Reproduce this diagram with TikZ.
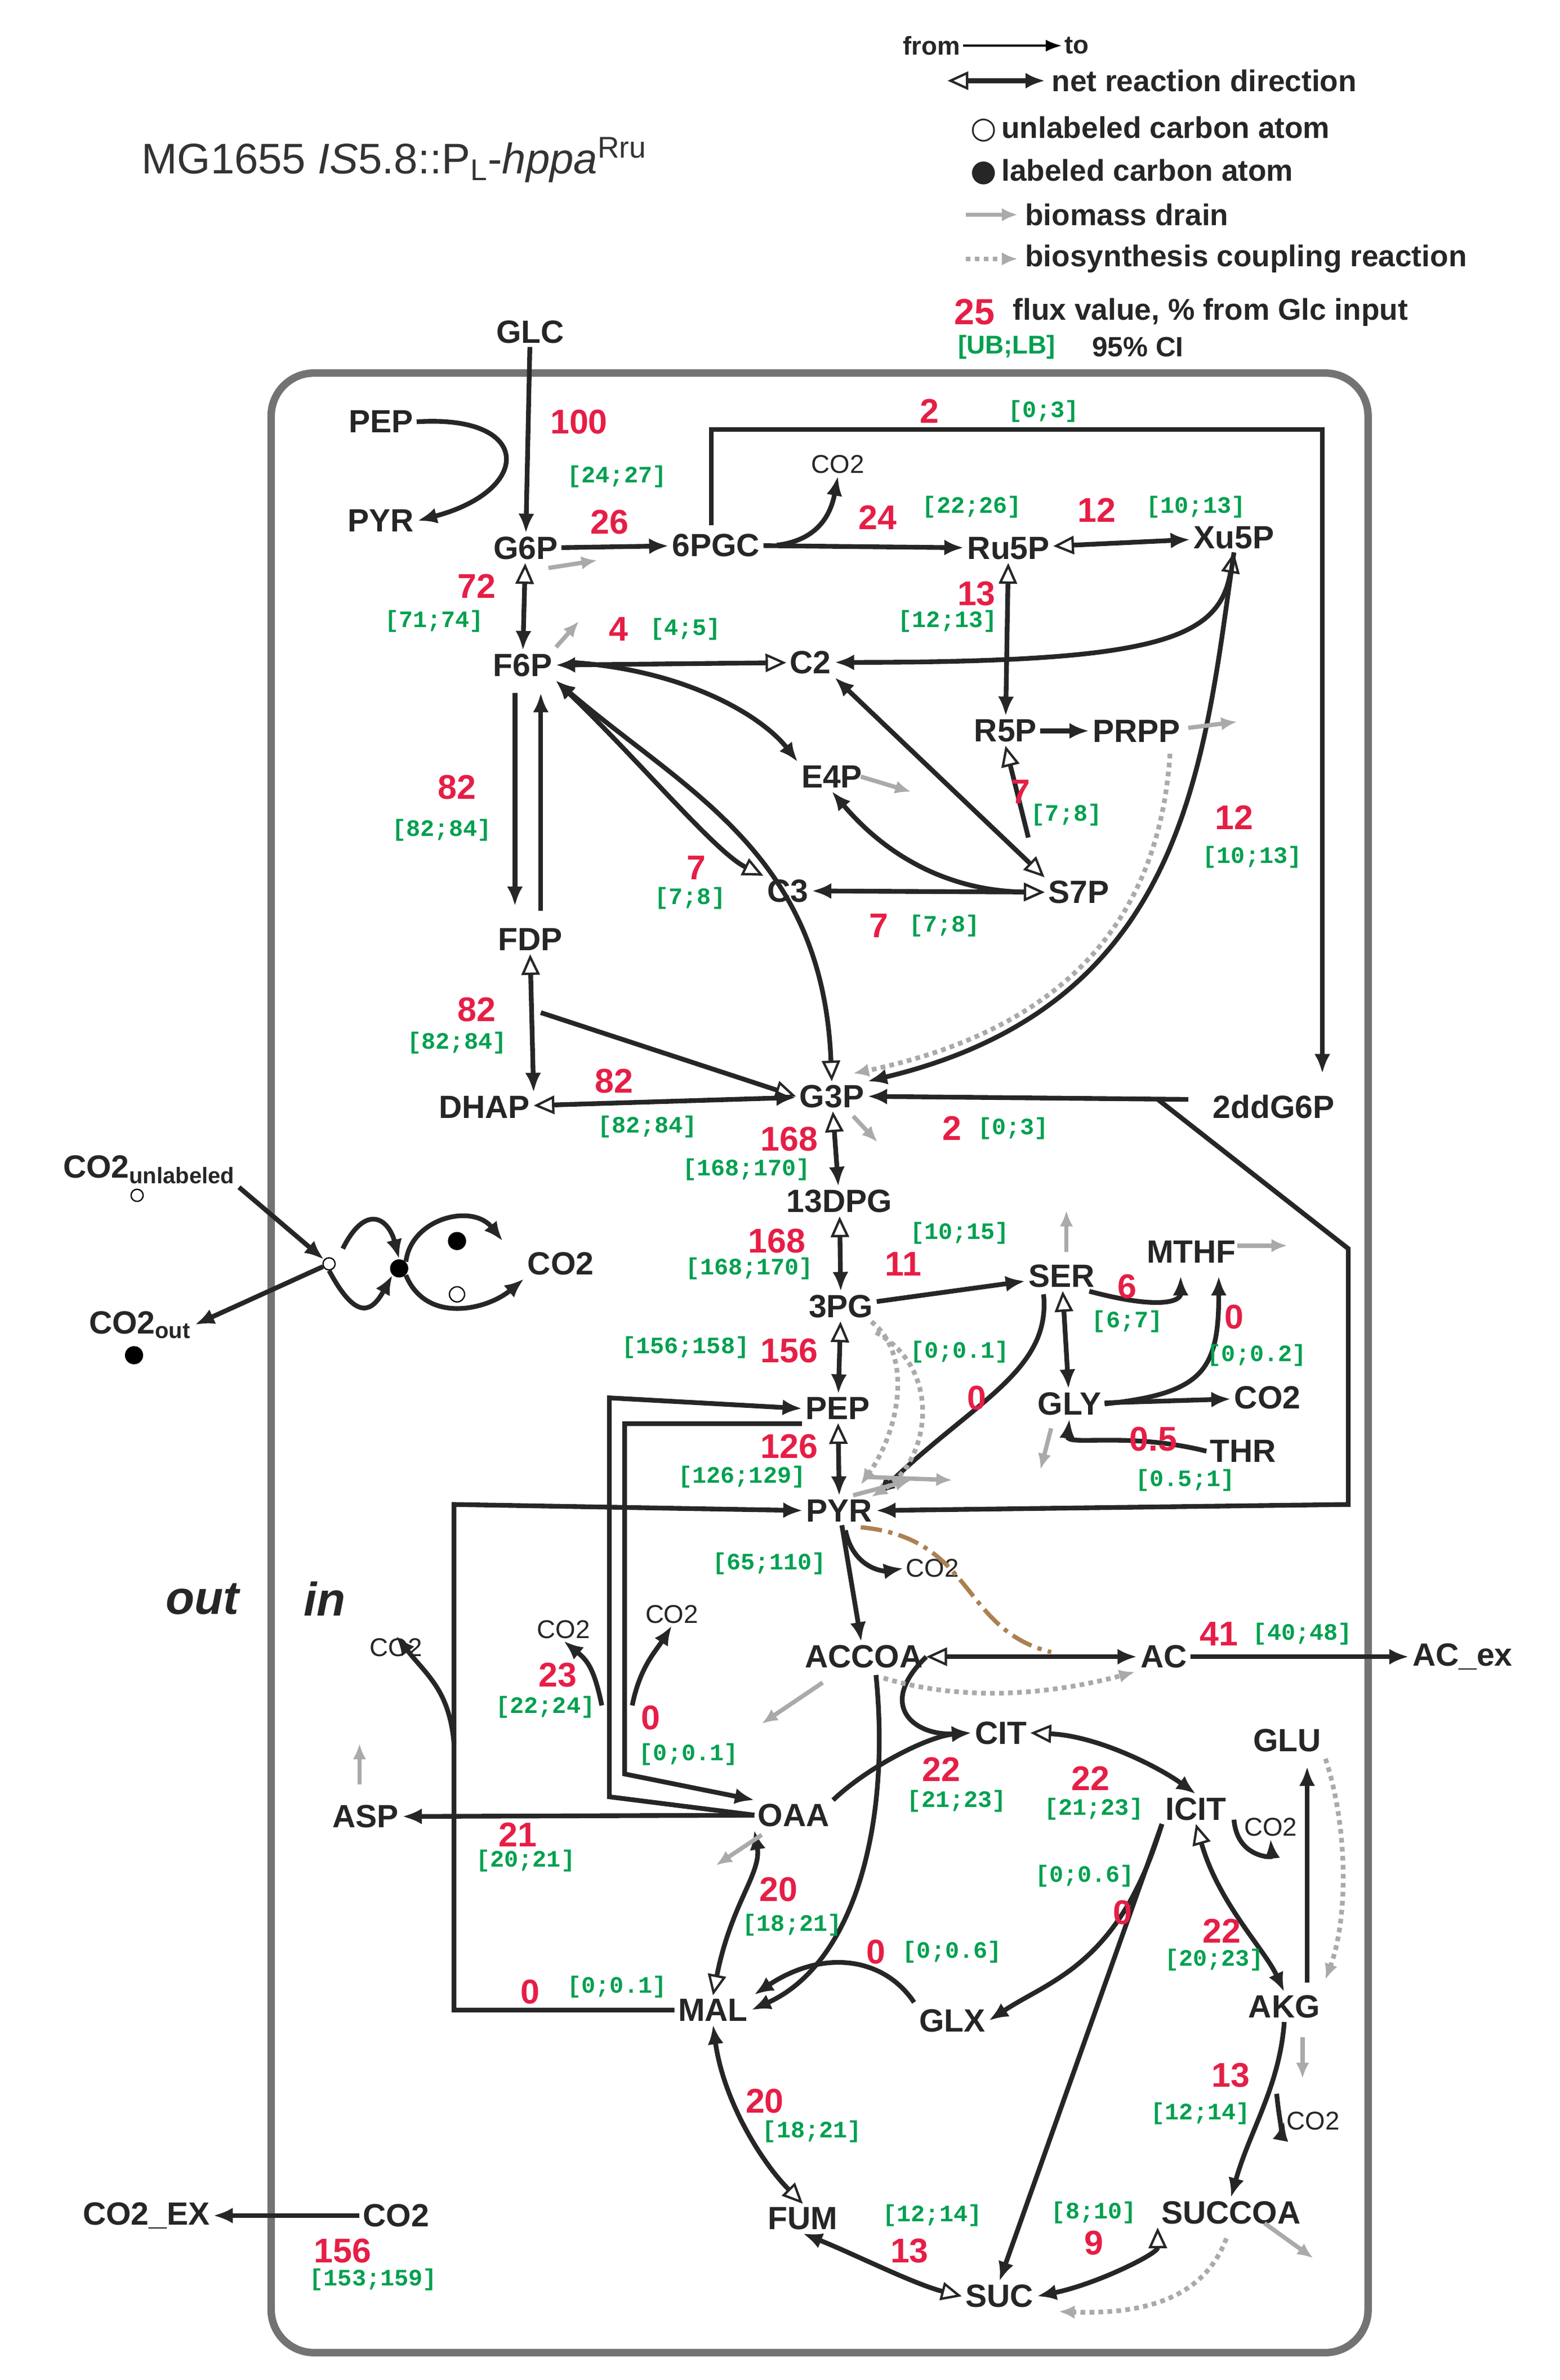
\documentclass[tikz,border=0pt]{standalone}
\usepackage{fontspec}
\setmainfont{Liberation Sans}
\setsansfont{Liberation Sans}
\setmonofont{Liberation Mono}
\usetikzlibrary{arrows.meta}
\definecolor{fred}{RGB}{230,30,70}
\definecolor{fgreen}{RGB}{0,160,80}
\definecolor{bgray}{RGB}{170,170,170}
\tikzset{
 Fa/.tip={Latex[length=3.2mm,width=2.6mm]},
 Oa/.tip={Triangle[open,length=3.4mm,width=3mm,line width=1.1pt,fill=white]},
 Ga/.tip={Latex[length=2.6mm,width=2.2mm]},
 m/.style={font=\fontsize{15}{16}\selectfont\bfseries\sffamily,text=black!85,inner sep=1.5pt},
 sm/.style={font=\fontsize{12}{13}\selectfont\sffamily,text=black!85,inner sep=1pt},
 fx/.style={font=\fontsize{16}{17}\selectfont\bfseries\sffamily,text=fred,inner sep=0pt},
 ci/.style={font=\fontsize{11}{12}\selectfont\bfseries\ttfamily,text=fgreen,inner sep=0pt},
 e/.style={line width=2.2pt,draw=black!85},
 bio/.style={line width=2pt,draw=bgray,-{Ga}},
 cpl/.style={line width=2.2pt,draw=bgray,dotted,-{Ga}},
}
\begin{document}
\begin{tikzpicture}[x=0.025cm,y=-0.025cm]
\useasboundingbox (0,0) rectangle (1024,1563);
% box
\draw[line width=3.5pt,draw=black!55,rounded corners=20] (178,245) rectangle (898,1545);
% title and legend
\node[anchor=west,font=\fontsize{20}{22}\selectfont\sffamily,text=black!80] (title) at (88,105) {MG1655 \textit{IS}5.8::P\textsubscript{L}-\textit{hppa}\textsuperscript{Rru}};
\node[sm,anchor=east] (lfrom) at (632,30) {\bfseries from};
\node[sm,anchor=west] (lto) at (697,30) {\bfseries to};
\draw[line width=1pt,-{Latex}] (lfrom.east) -- (lto.west);
\coordinate (nd1) at (622,53); \coordinate (nd2) at (686,53);
\draw[e,{Oa}-{Fa}] (nd1) -- (nd2);
\node[m,anchor=west,font=\fontsize{14}{15}\selectfont\bfseries] (lnet) at (688,53) {net reaction direction};
\node[anchor=west,font=\fontsize{14}{15}\selectfont\bfseries,text=black!85] (lun) at (632,85) {\fontspec{DejaVu Sans}○\,\fontspec{Liberation Sans}unlabeled carbon atom};
\node[anchor=west,font=\fontsize{14}{15}\selectfont\bfseries,text=black!85] (llab) at (632,113) {\fontspec{DejaVu Sans}●\,\fontspec{Liberation Sans}labeled carbon atom};
\node[anchor=west,font=\fontsize{14}{15}\selectfont\bfseries,text=black!85] (lbio) at (668,141) {biomass drain};
\coordinate (lb1) at (634,141); \draw[bio] (lb1) -- (lbio.west);
\node[anchor=west,font=\fontsize{14}{15}\selectfont\bfseries,text=black!85] (lcpl) at (668,170) {biosynthesis coupling reaction};
\coordinate (lc1) at (634,170); \draw[cpl] (lc1) -- (lcpl.west);
\node[fx,anchor=west,font=\fontsize{17}{18}\selectfont\bfseries\sffamily] (l25) at (626,205) {25};
\node[anchor=west,font=\fontsize{14}{15}\selectfont\bfseries,text=black!85] (lflux) at (660,205) {flux value, \% from Glc input};
\node[anchor=west,font=\fontsize{12}{13}\selectfont\bfseries\sffamily,text=fgreen] (lub) at (624,228) {[UB;LB]};
\node[anchor=west,font=\fontsize{13}{14}\selectfont\bfseries\sffamily,text=black!85] (lci) at (712,228) {95\% CI};
% metabolites
\node[m] (GLC) at (348,218) {GLC};
\node[m] (PEPa) at (250,277) {PEP};
\node[m] (PYRa) at (250,342) {PYR};
\node[m] (G6P) at (345,360) {G6P};
\node[m] (PGC) at (470,358) {6PGC};
\node[sm] (co2a) at (550,305) {CO2};
\node[m] (Ru5P) at (662,360) {Ru5P};
\node[m] (Xu5P) at (810,353) {Xu5P};
\node[m] (F6P) at (343,437) {F6P};
\node[m] (C2) at (532,435) {C2};
\node[m] (R5P) at (660,480) {R5P};
\node[m] (PRPP) at (746,480) {PRPP};
\node[m] (E4P) at (546,510) {E4P};
\node[m] (C3) at (517,585) {C3};
\node[m] (S7P) at (708,586) {S7P};
\node[m] (FDP) at (348,617) {FDP};
\node[m] (DHAP) at (318,727) {DHAP};
\node[m] (G3P) at (546,720) {G3P};
\node[m] (ddG) at (836,727) {2ddG6P};
\node[m] (DPG) at (551,789) {13DPG};
\node[m] (PG3) at (552,858) {3PG};
\node[m] (SER) at (697,838) {SER};
\node[m] (MTHF) at (782,822) {MTHF};
\node[m] (GLY) at (702,922) {GLY};
\node[m] (co2b) at (832,918) {CO2};
\node[m] (THR) at (816,953) {THR};
\node[m] (PEP) at (550,925) {PEP};
\node[m] (PYR) at (551,992) {PYR};
\node[sm] (co2c) at (612,1030) {CO2};
\node[m] (ACCOA) at (567,1088) {ACCOA};
\node[m] (AC) at (764,1088) {AC};
\node[m] (ACex) at (960,1088) {AC\_ex};
\node[m] (CIT) at (657,1138) {CIT};
\node[m] (ICIT) at (785,1188) {ICIT};
\node[sm] (co2d) at (834,1200) {CO2};
\node[m] (GLU) at (845,1143) {GLU};
\node[m] (OAA) at (521,1192) {OAA};
\node[m] (ASP) at (240,1193) {ASP};
\node[m] (MAL) at (468,1320) {MAL};
\node[m] (GLX) at (625,1327) {GLX};
\node[m] (AKG) at (843,1318) {AKG};
\node[m] (FUM) at (527,1457) {FUM};
\node[m] (SUC) at (656,1508) {SUC};
\node[m] (SUCCOA) at (808,1453) {SUCCOA};
\node[sm] (co2e) at (862,1393) {CO2};
\node[m] (CO2EX) at (96,1455) {CO2\_EX};
\node[m] (co2f) at (260,1455) {CO2};
\node[sm] (co2g) at (370,1070) {CO2};
\node[sm] (co2h) at (441,1060) {CO2};
\node[sm] (co2i) at (260,1082) {CO2};
\node[font=\fontsize{22}{24}\selectfont\bfseries\itshape\sffamily,text=black!85] (out) at (133,1050) {out};
\node[font=\fontsize{22}{24}\selectfont\bfseries\itshape\sffamily,text=black!85] (in) at (213,1050) {in};
% CO2 exchange
\node[m] (co2u) at (98,768) {CO2\textsubscript{unlabeled}};
\node[m] (co2o) at (92,870) {CO2\textsubscript{out}};
\node[m] (co2j) at (368,830) {CO2};
\node[draw,circle,inner sep=2pt,line width=0.6pt] (cu) at (90,785) {};
\node[fill,circle,inner sep=3pt] (cl) at (88,890) {};
\node[draw,circle,inner sep=2pt,line width=0.6pt] (x1) at (216,830) {};
\node[fill,circle,inner sep=3pt] (x2) at (262,833) {};
\node[fill,circle,inner sep=3pt] (x3) at (300,815) {};
\node[draw,circle,inner sep=2.5pt,line width=0.6pt] (x4) at (300,850) {};
\draw[e,-{Fa}] (co2u.south east) -- (x1);
\draw[e,-{Fa}] (x1) -- (co2o.east);
\draw[e,-{Fa}] (x1.south) .. controls (235,870) and (245,860) .. (x2.south west);
\draw[e,-{Fa}] (225,820) .. controls (240,790) and (255,800) .. (x2.north);
\draw[e,-{Fa}] (x2.north east) .. controls (270,800) and (310,790) .. (330,815);
\draw[e,-{Fa}] (x2.south east) .. controls (280,870) and (320,860) .. (co2j.south west);
% upper glycolysis / PPP
\draw[e,-{Fa}] (GLC) -- (G6P);
\draw[e,-{Fa}] (PEPa.east) .. controls (350,272) and (350,322) .. (PYRa.east);
\draw[e,-{Fa}] (G6P) -- (PGC);
\draw[e,-{Fa}] (PGC) -- (Ru5P);
\draw[e,-{Fa}] (510,358) .. controls (535,355) and (545,340) .. (co2a.south);
\draw[e,-{Fa}] (467,345) -- (467,282) -- (868,282) -- (868,705);
\draw[e,{Oa}-{Fa}] (Ru5P) -- (Xu5P);
\draw[e,{Oa}-{Fa}] (Ru5P) -- (R5P);
\draw[e,{Oa}-{Fa}] (G6P) -- (F6P);
\draw[e,{Fa}-{Oa}] (F6P) -- (C2);
\draw[e,{Oa}-{Fa}] (Xu5P.south) .. controls (800,420) and (760,435) .. (C2.east);
\draw[e,-{Fa}] (375,435) .. controls (450,440) and (500,470) .. (E4P.north west);
\draw[e,{Fa}-{Oa}] (C2.south east) -- (S7P.north west);
\draw[e,-{Fa}] (R5P) -- (PRPP);
\draw[e,-{Oa}] (675,550) -- (R5P.south);
\draw[e,{Fa}-{Oa}] (E4P.south) .. controls (580,560) and (620,585) .. (S7P.west);
\draw[e,{Fa}-{Oa}] (F6P.south east) .. controls (420,500) and (470,560) .. (C3.north west);
\draw[e,{Fa}-{Oa}] (C3) -- (S7P);
\draw[e,{Fa}-{Oa}] (F6P.south east) .. controls (450,520) and (540,560) .. (G3P.north);
\draw[e,-{Fa}] (Xu5P.south) .. controls (790,500) and (780,660) .. (G3P.north east);
\draw[e,-{Fa}] (338,455) -- (338,595);
\draw[e,-{Fa}] (355,598) -- (355,455);
\draw[e,{Oa}-{Fa}] (FDP.south) -- (DHAP.north east);
\draw[e,-{Oa}] (355,665) -- (G3P.west);
\draw[e,{Oa}-{Fa}] (DHAP) -- (G3P);
\draw[e,-{Fa}] (780,722) -- (G3P.east);
\draw[e,-{Fa}] (760,722) -- (885,820) -- (885,988) -- (PYR.east);
% lower glycolysis
\draw[e,{Oa}-{Fa}] (G3P) -- (DPG);
\draw[e,{Oa}-{Fa}] (DPG) -- (PG3);
\draw[e,-{Fa}] (PG3) -- (SER);
\draw[e,{Oa}-{Fa}] (PG3) -- (PEP);
\draw[e,{Oa}-{Fa}] (SER) -- (GLY);
\draw[e,-{Fa}] (715,848) .. controls (760,860) and (775,855) .. (775,838);
\draw[e,-{Fa}] (GLY.east) .. controls (790,915) and (800,900) .. (800,838);
\draw[e,-{Fa}] (GLY) -- (co2b);
\draw[e,-{Fa}] (THR.west) .. controls (740,940) and (700,950) .. (GLY.south);
\draw[e,-{Fa}] (685,850) .. controls (690,900) and (640,920) .. (PYR.north east);
\draw[e,{Oa}-{Fa}] (PEP) -- (PYR);
\draw[e,-{Fa}] (PYR) -- (ACCOA);
\draw[e,-{Fa}] (555,1005) .. controls (560,1030) and (580,1032) .. (co2c.west);
\draw[line width=2pt,draw=brown!70!gray,dash pattern=on 10pt off 3pt on 2pt off 3pt] (565,1003) .. controls (640,1010) and (630,1070) .. (690,1085);
\draw[e,{Oa}-{Fa}] (ACCOA) -- (AC);
\draw[e,-{Fa}] (AC) -- (ACex);
\draw[e,-{Fa}] (ACCOA.east) .. controls (575,1120) and (600,1140) .. (CIT.west);
% TCA
\draw[e,-{Fa}] (OAA.north east) .. controls (570,1160) and (610,1140) .. (CIT.west);
\draw[e,{Oa}-{Fa}] (CIT.east) .. controls (720,1140) and (760,1160) .. (ICIT.north);
\draw[e,-{Fa}] (810,1195) .. controls (812,1220) and (835,1220) .. (co2d.south);
\draw[e,{Oa}-{Fa}] (ICIT.south) .. controls (800,1250) and (830,1280) .. (AKG.north);
\draw[e,-{Fa}] (ICIT.south west) -- (SUC.north);
\draw[e,-{Fa}] (ICIT.south west) .. controls (735,1290) and (690,1300) .. (GLX.east);
\draw[e,-{Fa}] (858,1302) -- (858,1160);
\draw[e,-{Fa}] (AKG.south) .. controls (840,1370) and (820,1400) .. (SUCCOA.north);
\draw[e,-{Fa}] (838,1375) .. controls (840,1395) and (842,1398) .. (co2e.west);
\draw[e,{Oa}-{Fa}] (SUCCOA.south west) .. controls (760,1480) and (720,1500) .. (SUC.east);
\draw[e,{Oa}-{Fa}] (SUC.west) .. controls (600,1500) and (560,1480) .. (FUM.south);
\draw[e,{Oa}-{Fa}] (FUM.north) .. controls (500,1420) and (475,1380) .. (MAL.south);
\draw[e,{Oa}-{Fa}] (MAL.north) .. controls (480,1250) and (500,1230) .. (OAA.south west);
\draw[e,-{Fa}] (600,1315) .. controls (580,1285) and (540,1280) .. (495,1310);
\draw[e,-{Fa}] (575,1100) .. controls (585,1200) and (560,1290) .. (MAL.east);
\draw[e,-{Fa}] (OAA) -- (ASP);
% anaplerotic
\draw[e,-{Fa}] (OAA.west) -- (400,1180) -- (400,918) -- (PEP.west);
\draw[e,-{Fa}] (PEP.west) ++(0,10) -- (410,935) -- (410,1165) -- (OAA.north west);
\draw[e,-{Fa}] (395,1120) .. controls (390,1095) and (385,1090) .. (co2g.south);
\draw[e,-{Fa}] (415,1120) .. controls (420,1095) and (430,1085) .. (co2h.south);
\draw[e,-{Fa}] (MAL.west) -- (298,1320) -- (298,988) -- (PYR.west);
\draw[e,-{Fa}] (298,1145) .. controls (295,1110) and (280,1100) .. (co2i.north);
\draw[e,-{Fa}] (co2f) -- (CO2EX);
% biomass drains
\draw[bio] (360,373) -- (392,368);
\draw[bio] (365,425) -- (380,408);
\draw[bio] (565,510) -- (598,520);
\draw[bio] (780,478) -- (812,474);
\draw[bio] (560,733) -- (576,750);
\draw[bio] (700,822) -- (700,795);
\draw[bio] (812,818) -- (845,818);
\draw[bio] (690,938) -- (683,965);
\draw[bio] (570,970) -- (625,972);
\draw[bio] (560,982) -- (598,972);
\draw[bio] (540,1105) -- (500,1132);
\draw[bio] (500,1205) -- (470,1225);
\draw[bio] (236,1172) -- (236,1145);
\draw[bio] (855,1338) -- (855,1365);
\draw[bio] (830,1460) -- (862,1483);
% coupling
\draw[cpl] (768,495) .. controls (760,620) and (680,680) .. (560,705);
\draw[cpl] (572,868) .. controls (600,890) and (590,940) .. (565,975);
\draw[cpl] (575,875) .. controls (620,900) and (610,960) .. (572,983);
\draw[cpl] (580,1102) .. controls (640,1120) and (700,1110) .. (745,1098);
\draw[cpl] (870,1155) .. controls (885,1200) and (885,1260) .. (870,1300);
\draw[cpl] (805,1470) .. controls (790,1510) and (750,1520) .. (695,1518);
% flux labels
\node[fx] (v1) at (380,277) {100}; \node[ci] (c1) at (405,313) {[24;27]};
\node[fx] (v2) at (400,343) {26};
\node[fx] (v3) at (576,340) {24}; \node[ci] (c3) at (638,333) {[22;26]};
\node[fx] (v4) at (610,270) {2}; \node[ci] (c4) at (685,270) {[0;3]};
\node[fx] (v5) at (720,335) {12}; \node[ci] (c5) at (785,333) {[10;13]};
\node[fx] (v6) at (641,390) {13}; \node[ci] (c6) at (622,408) {[12;13]};
\node[fx] (v7) at (313,385) {72}; \node[ci] (c7) at (285,408) {[71;74]};
\node[fx] (v8) at (406,413) {4}; \node[ci] (c8) at (450,413) {[4;5]};
\node[fx] (v9) at (670,520) {7}; \node[ci] (c9) at (700,535) {[7;8]};
\node[fx] (v10) at (810,537) {12}; \node[ci] (c10) at (822,563) {[10;13]};
\node[fx] (v11) at (457,570) {7}; \node[ci] (c11) at (453,590) {[7;8]};
\node[fx] (v12) at (577,608) {7}; \node[ci] (c12) at (620,608) {[7;8]};
\node[fx] (v13) at (300,517) {82}; \node[ci] (c13) at (290,545) {[82;84]};
\node[fx] (v14) at (313,663) {82}; \node[ci] (c14) at (300,685) {[82;84]};
\node[fx] (v15) at (403,710) {82}; \node[ci] (c15) at (425,740) {[82;84]};
\node[fx] (v16) at (625,741) {2}; \node[ci] (c16) at (665,741) {[0;3]};
\node[fx] (v17) at (518,748) {168}; \node[ci] (c17) at (490,768) {[168;170]};
\node[fx] (v18) at (510,815) {168}; \node[ci] (c18) at (492,833) {[168;170]};
\node[fx] (v19) at (593,830) {11}; \node[ci] (c19) at (630,810) {[10;15]};
\node[fx] (v20) at (518,887) {156}; \node[ci] (c20) at (450,885) {[156;158]};
\node[fx] (v21) at (740,845) {6}; \node[ci] (c21) at (740,868) {[6;7]};
\node[fx] (v22) at (810,865) {0}; \node[ci] (c22) at (825,890) {[0;0.2]};
\node[fx] (v23) at (757,945) {0.5}; \node[ci] (c23) at (778,972) {[0.5;1]};
\node[fx] (v24) at (641,918) {0}; \node[ci] (c24) at (630,888) {[0;0.1]};
\node[fx] (v25) at (518,950) {126}; \node[ci] (c25) at (487,970) {[126;129]};
\node[ci] (c26) at (505,1027) {[65;110]};
\node[fx] (v27) at (800,1073) {41}; \node[ci] (c27) at (855,1073) {[40;48]};
\node[fx] (v28) at (618,1162) {22}; \node[ci] (c28) at (628,1183) {[21;23]};
\node[fx] (v29) at (716,1168) {22}; \node[ci] (c29) at (718,1188) {[21;23]};
\node[fx] (v30) at (802,1268) {22}; \node[ci] (c30) at (797,1287) {[20;23]};
\node[fx] (v31) at (737,1256) {0}; \node[ci] (c31) at (712,1232) {[0;0.6]};
\node[fx] (v32) at (808,1363) {13}; \node[ci] (c32) at (788,1388) {[12;14]};
\node[fx] (v33) at (718,1473) {9}; \node[ci] (c33) at (718,1453) {[8;10]};
\node[fx] (v34) at (597,1478) {13}; \node[ci] (c34) at (612,1455) {[12;14]};
\node[fx] (v35) at (502,1380) {20}; \node[ci] (c35) at (533,1400) {[18;21]};
\node[fx] (v36) at (511,1241) {20}; \node[ci] (c36) at (520,1264) {[18;21]};
\node[fx] (v37) at (575,1282) {0}; \node[ci] (c37) at (625,1282) {[0;0.6]};
\node[fx] (v38) at (340,1205) {21}; \node[ci] (c38) at (345,1222) {[20;21]};
\node[fx] (v39) at (366,1100) {23}; \node[ci] (c39) at (358,1121) {[22;24]};
\node[fx] (v40) at (427,1128) {0}; \node[ci] (c40) at (452,1152) {[0;0.1]};
\node[fx] (v41) at (348,1308) {0}; \node[ci] (c41) at (405,1305) {[0;0.1]};
\node[fx] (v42) at (225,1478) {156}; \node[ci] (c42) at (245,1497) {[153;159]};
\end{tikzpicture}
\end{document}
